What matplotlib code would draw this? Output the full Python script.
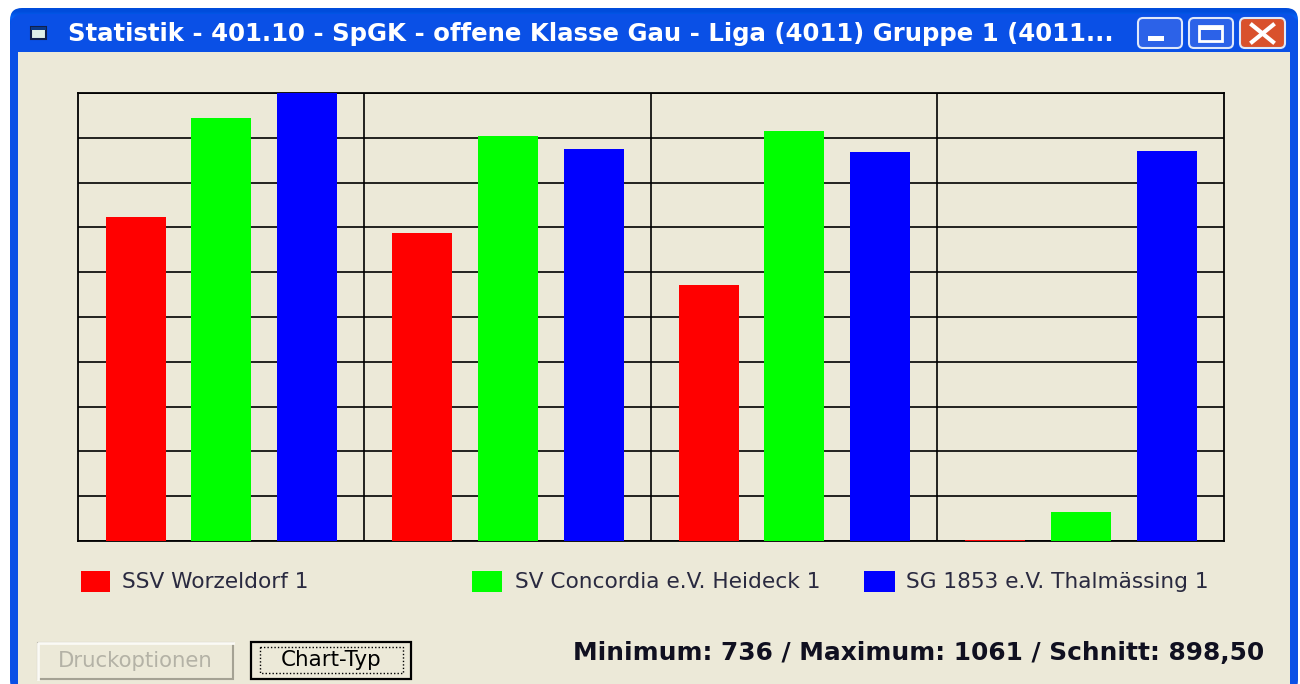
import numpy as np
import matplotlib
matplotlib.use('Agg')
from matplotlib import pyplot as plt
from matplotlib.patches import Rectangle, FancyBboxPatch

# werte
gruppen = [0, 1, 2, 3]
teams = ['SSV Worzeldorf 1', 'SV Concordia e.V. Heideck 1', 'SG 1853 e.V. Thalmässing 1']
rot = [971, 959, 921, 736]
gruen = [1043, 1030, 1033, 756]
blau = [1061, 1020, 1018, 1019]
farben = ['#ff0000', '#00ff00', '#0000ff']
titel = 'Statistik - 401.10 - SpGK - offene Klasse Gau - Liga (4011) Gruppe 1 (4011...'
statistik = 'Minimum: 736 / Maximum: 1061 / Schnitt: 898,50'

B, H = 1300, 684
fig = plt.figure(figsize=(B / 100, H / 100), dpi=100, facecolor='white')

# hintergrund in pixelkoordinaten (fensterrahmen)
bg = fig.add_axes([0, 0, 1, 1])
bg.set_xlim(0, B)
bg.set_ylim(H, 0)
bg.axis('off')

fenster = FancyBboxPatch((10, 14), 1288, 680, boxstyle='round,pad=0,rounding_size=14',
                         fc='#0a50e6', ec='none', transform=bg.transData)
bg.add_patch(fenster)
verlauf = np.array([[0.00, 0.30, 0.86], [0.02, 0.38, 0.96], [0.00, 0.30, 0.90],
                    [0.00, 0.31, 0.89], [0.02, 0.34, 0.92], [0.03, 0.36, 0.93],
                    [0.00, 0.28, 0.84]]).reshape(7, 1, 3)
im = bg.imshow(verlauf, extent=(10, 1298, 52, 8), aspect='auto', interpolation='bilinear')
kopf = FancyBboxPatch((10, 8), 1288, 60, boxstyle='round,pad=0,rounding_size=12',
                      fc='none', ec='none', transform=bg.transData)
bg.add_patch(kopf)
im.set_clip_path(kopf)
bg.set_xlim(0, B)
bg.set_ylim(H, 0)
bg.add_patch(Rectangle((18, 52), 1272, 632, fc='#ece9d8', ec='none', zorder=2))

# titelleiste
bg.add_patch(Rectangle((31, 27), 15, 12, fc='#dff0e8', ec='#10204a', lw=1.5, zorder=3))
bg.add_patch(Rectangle((31, 27), 15, 3, fc='#0a3a8a', ec='none', zorder=3))
bg.text(68, 34, titel, color='white', fontsize=17.6, family='DejaVu Sans', weight='bold',
        va='center', ha='left', zorder=3)


def knopf(x0, x1, farbe):
    bg.add_patch(FancyBboxPatch((x0, 18), x1 - x0, 30, boxstyle='round,pad=0,rounding_size=5',
                                fc=farbe, ec='#dfe8fa', lw=1.5, zorder=3))


knopf(1138, 1182, '#2c62e8')
knopf(1189, 1233, '#2c62e8')
knopf(1240, 1285, '#d9512c')
bg.add_patch(Rectangle((1148, 36), 16, 5, fc='white', ec='none', zorder=4))
bg.add_patch(Rectangle((1199, 26), 23, 15, fc='none', ec='white', lw=2, zorder=4))
bg.add_patch(Rectangle((1199, 26), 23, 4, fc='white', ec='none', zorder=4))
bg.plot([1252, 1273], [25, 42], color='white', lw=3, zorder=4)
bg.plot([1273, 1252], [25, 42], color='white', lw=3, zorder=4)

# legende
for x_box, breite, x_text, name, farbe in zip([81, 472, 864], [29, 30, 31], [122, 515, 906], teams, farben):
    bg.add_patch(Rectangle((x_box, 571), breite, 21, fc=farbe, ec='none', zorder=3))
    bg.text(x_text, 582, name, fontsize=15.6, family='DejaVu Sans', color='#2a2a40',
            va='center', ha='left', zorder=3)

# knoepfe unten
bg.add_patch(Rectangle((38, 643), 195, 36, fc='#ece9d8', ec='#a5a294', lw=1.5, zorder=3))
bg.plot([38, 38, 233], [679, 643, 643], color='#fbfaf5', lw=2, zorder=4)
bg.text(135.5, 661, 'Druckoptionen', fontsize=15.3, family='DejaVu Sans', color='#b4b2a6',
        va='center', ha='center', zorder=4)
bg.add_patch(Rectangle((251, 642), 160, 37, fc='#ece9d8', ec='black', lw=1.6, zorder=3))
bg.add_patch(Rectangle((260, 647), 143, 26, fc='none', ec='black', lw=1, ls=(0, (1, 1.5)), zorder=4))
bg.text(331, 660, 'Chart-Typ', fontsize=15.4, family='DejaVu Sans', color='black',
        va='center', ha='center', zorder=4)

bg.text(573, 653, statistik, fontsize=17.95, family='DejaVu Sans', weight='bold', color='#101020',
        va='center', ha='left', zorder=3)

# balkendiagramm
ax = fig.add_axes([78 / B, 1 - 541 / H, (1224 - 78) / B, (541 - 93) / H], zorder=5)
ax.patch.set_alpha(0)
x = np.array(gruppen)
ax.bar(x + 0.202, rot, 0.21, bottom=0, color=farben[0], zorder=3)
ax.bar(x + 0.5, gruen, 0.208, bottom=0, color=farben[1], zorder=3)
ax.bar(x + 0.8, blau, 0.21, bottom=0, color=farben[2], zorder=3)
ax.set_xlim(0, 4)
ax.set_ylim(735, 1061)
ax.set_xticks([1, 2, 3])
ax.set_yticks(np.linspace(735, 1061, 11))
ax.tick_params(length=0, labelbottom=False, labelleft=False)
ax.grid(True, color='black', lw=1.2, zorder=1)
ax.set_axisbelow(True)
for s in ax.spines.values():
    s.set_linewidth(1.3)
    s.set_color('black')
    s.set_zorder(2)

fig.savefig('out.png', dpi=100)
